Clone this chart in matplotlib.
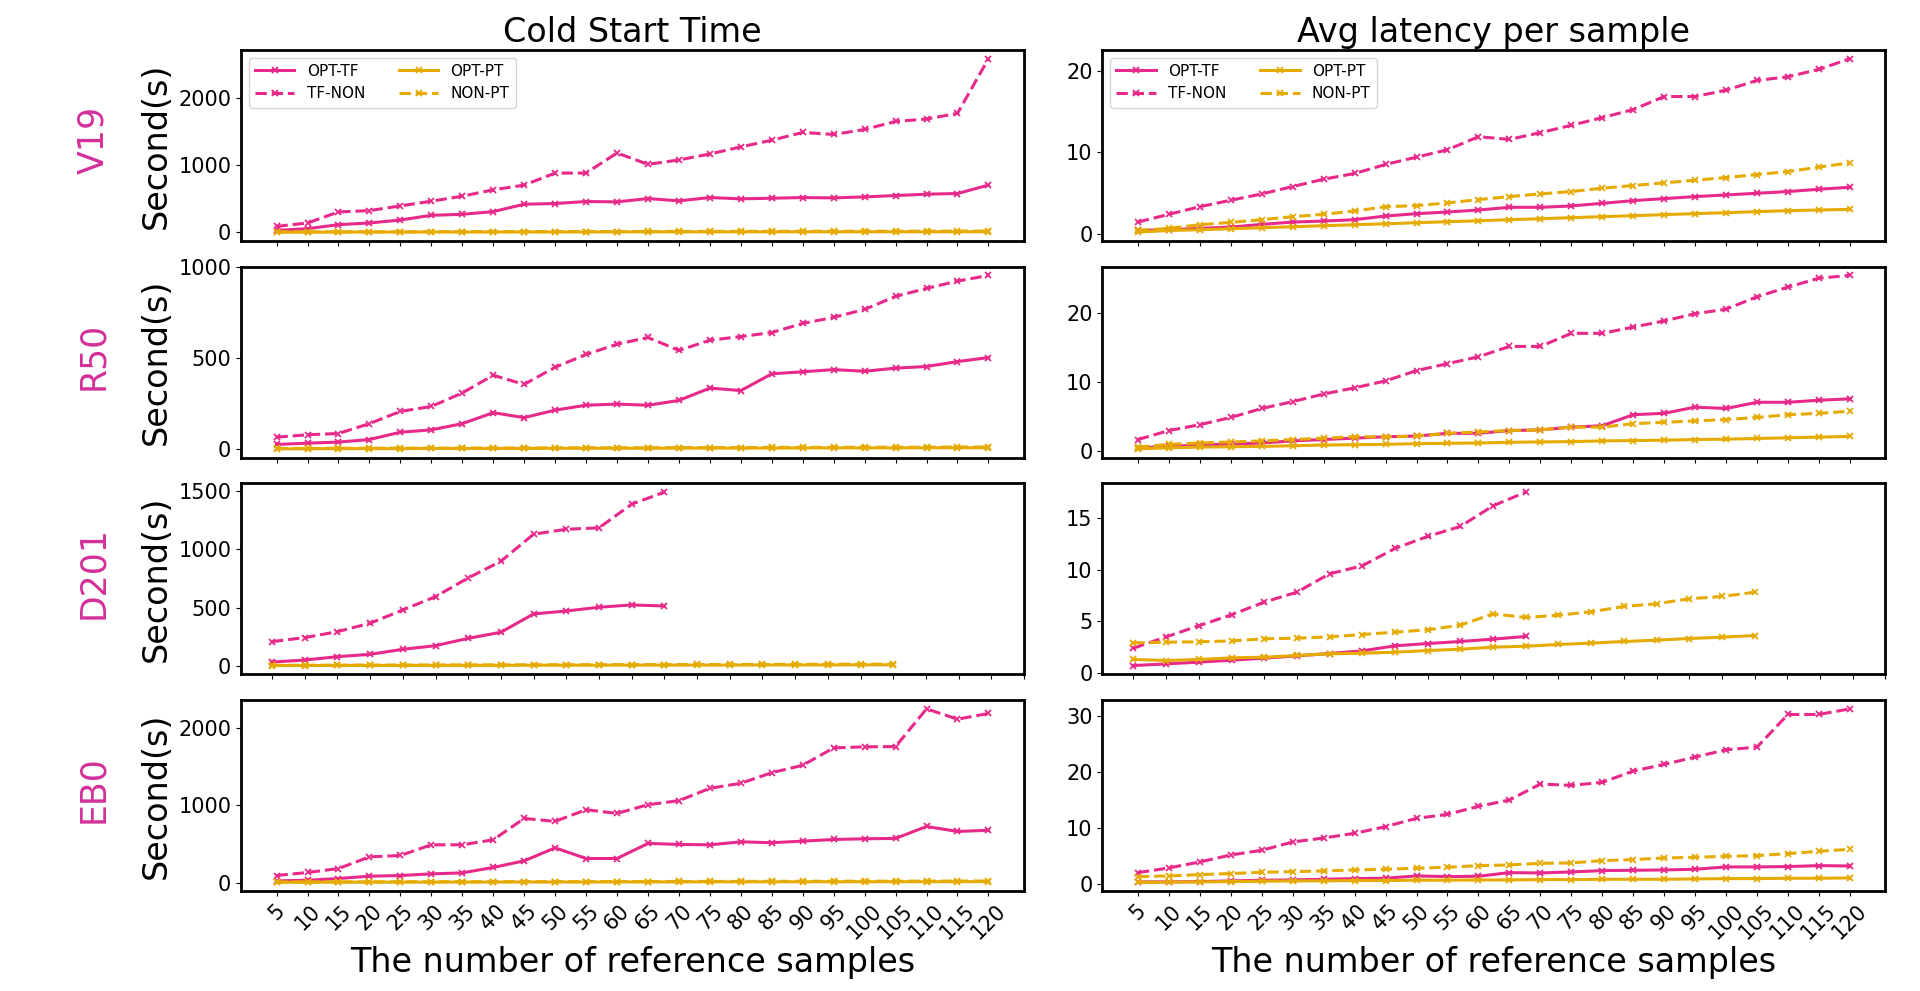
import matplotlib
matplotlib.use("Agg")
import matplotlib.pyplot as plt

samples = [5, 10, 15, 20, 25, 30, 35, 40, 45, 50, 55, 60, 65, 70, 75, 80, 85, 90, 95, 100, 105, 110, 115, 120]
models = ["V19", "R50", "D201", "EB0"]
col_titles = ["Cold Start Time", "Avg latency per sample"]
series_names = ["OPT-TF", "TF-NON", "OPT-PT", "NON-PT"]

# ---------------- V19 ----------------
v19_cold_opt_tf = [30, 55, 115, 140, 184, 254, 269, 309, 419, 429, 459, 454, 503, 469, 518, 499, 508, 518, 513, 528, 548, 568, 578, 703]
v19_cold_tf_non = [90, 140, 304, 324, 394, 464, 538, 633, 703, 882, 882, 1181, 1012, 1077, 1166, 1271, 1371, 1486, 1456, 1530, 1650, 1685, 1770, 2582]
v19_cold_opt_pt = [4, 4, 5, 5, 5, 6, 6, 6, 7, 6, 7, 7, 8, 7, 8, 8, 8, 9, 9, 9, 10, 9, 10, 10]
v19_cold_non_pt = [7, 8, 8, 9, 10, 10, 11, 11, 12, 12, 13, 13, 14, 14, 15, 15, 16, 17, 17, 18, 18, 19, 19, 20]
v19_lat_opt_tf = [0.41, 0.49, 0.66, 0.82, 1.15, 1.44, 1.56, 1.73, 2.18, 2.47, 2.67, 2.92, 3.25, 3.25, 3.42, 3.74, 4.07, 4.32, 4.57, 4.77, 4.98, 5.19, 5.47, 5.72]
v19_lat_tf_non = [1.44, 2.39, 3.33, 4.12, 4.90, 5.80, 6.71, 7.41, 8.52, 9.42, 10.33, 11.93, 11.60, 12.43, 13.33, 14.28, 15.27, 16.87, 16.87, 17.65, 18.85, 19.30, 20.21, 21.52]
v19_lat_opt_pt = [0.20, 0.41, 0.49, 0.62, 0.74, 0.86, 0.99, 1.11, 1.23, 1.36, 1.48, 1.60, 1.73, 1.85, 1.98, 2.10, 2.22, 2.35, 2.47, 2.59, 2.72, 2.84, 2.92, 3.00]
v19_lat_non_pt = [0.41, 0.66, 1.11, 1.40, 1.73, 2.10, 2.39, 2.80, 3.33, 3.46, 3.79, 4.20, 4.57, 4.90, 5.19, 5.60, 5.93, 6.26, 6.58, 6.91, 7.28, 7.65, 8.19, 8.72]

# ---------------- R50 ----------------
r50_cold_opt_tf = [27, 34, 40, 54, 94, 107, 141, 201, 174, 215, 242, 248, 242, 268, 336, 322, 414, 425, 437, 428, 445, 454, 481, 503]
r50_cold_tf_non = [67, 80, 87, 141, 208, 235, 309, 406, 356, 450, 520, 576, 613, 542, 598, 618, 640, 690, 723, 767, 838, 882, 922, 953]
r50_cold_opt_pt = [3, 3, 4, 4, 4, 5, 5, 5, 5, 6, 6, 6, 6, 7, 7, 7, 7, 8, 8, 8, 8, 9, 9, 9]
r50_cold_non_pt = [5, 5, 6, 6, 7, 7, 7, 8, 8, 8, 9, 9, 9, 10, 10, 10, 11, 11, 11, 12, 12, 12, 13, 13]
r50_lat_opt_tf = [0.4, 0.6, 0.8, 0.95, 1.1, 1.4, 1.6, 1.8, 2.0, 2.1, 2.5, 2.5, 2.9, 3.0, 3.4, 3.6, 5.2, 5.4, 6.3, 6.1, 7.0, 7.0, 7.3, 7.5]
r50_lat_tf_non = [1.6, 2.9, 3.75, 4.8, 6.1, 7.1, 8.2, 9.1, 10.1, 11.6, 12.6, 13.6, 15.1, 15.1, 17.0, 17.0, 17.9, 18.8, 19.85, 20.5, 22.3, 23.7, 25.0, 25.4]
r50_lat_opt_pt = [0.25, 0.4, 0.5, 0.55, 0.6, 0.7, 0.8, 0.85, 0.9, 1.0, 1.05, 1.1, 1.2, 1.25, 1.3, 1.4, 1.45, 1.5, 1.6, 1.65, 1.75, 1.85, 1.95, 2.05]
r50_lat_non_pt = [0.5, 0.9, 1.1, 1.25, 1.4, 1.6, 1.8, 2.0, 2.0, 2.1, 2.5, 2.7, 2.9, 3.0, 3.4, 3.4, 3.9, 4.1, 4.3, 4.5, 4.8, 5.2, 5.4, 5.7]

# ---------------- D201 ----------------
d201_cold_opt_tf = [34, 51, 80, 100, 143, 174, 237, 289, 446, 471, 503, 523, 514]
d201_cold_tf_non = [209, 243, 294, 366, 480, 594, 754, 897, 1129, 1171, 1183, 1386, 1489]
d201_cold_opt_pt = [4, 4, 5, 5, 5, 6, 6, 6, 7, 7, 7, 8, 8, 8, 8, 9, 9, 9, 10, 10]
d201_cold_non_pt = [6, 7, 7, 8, 8, 9, 9, 10, 10, 11, 11, 12, 12, 13, 13, 14, 14, 15, 15, 16]
d201_lat_opt_tf = [0.68, 0.84, 1.01, 1.20, 1.40, 1.62, 1.85, 2.11, 2.60, 2.82, 3.02, 3.25, 3.51]
d201_lat_tf_non = [2.37, 3.47, 4.55, 5.62, 6.85, 7.82, 9.61, 10.39, 12.08, 13.25, 14.22, 16.23, 17.56]
d201_lat_opt_pt = [1.27, 1.17, 1.27, 1.43, 1.49, 1.66, 1.82, 1.88, 1.98, 2.14, 2.27, 2.47, 2.56, 2.73, 2.86, 3.02, 3.15, 3.31, 3.44, 3.60]
d201_lat_non_pt = [2.89, 2.95, 2.99, 3.08, 3.28, 3.34, 3.47, 3.70, 3.93, 4.16, 4.61, 5.71, 5.36, 5.58, 5.91, 6.43, 6.69, 7.18, 7.40, 7.82]

# ---------------- EB0 ----------------
eb0_cold_opt_tf = [21, 30, 52, 82, 91, 112, 125, 195, 281, 449, 311, 311, 506, 493, 488, 527, 515, 536, 557, 566, 571, 725, 661, 676]
eb0_cold_tf_non = [91, 130, 181, 332, 350, 488, 488, 553, 829, 791, 942, 894, 1007, 1059, 1219, 1284, 1421, 1517, 1742, 1755, 1759, 2247, 2113, 2187]
eb0_cold_opt_pt = [4, 4, 5, 5, 5, 6, 6, 6, 7, 7, 7, 8, 8, 8, 9, 9, 9, 10, 10, 10, 11, 11, 11, 12]
eb0_cold_non_pt = [7, 8, 8, 9, 10, 10, 11, 11, 12, 12, 12, 13, 13, 14, 15, 15, 16, 16, 17, 18, 18, 19, 19, 20]
eb0_lat_opt_tf = [0.30, 0.30, 0.36, 0.48, 0.60, 0.65, 0.77, 0.89, 0.95, 1.37, 1.25, 1.31, 1.96, 1.90, 2.08, 2.32, 2.38, 2.44, 2.56, 2.98, 2.98, 3.04, 3.21, 3.15]
eb0_lat_tf_non = [1.96, 2.80, 3.87, 5.12, 5.95, 7.44, 8.15, 8.99, 10.18, 11.67, 12.38, 13.81, 14.94, 17.80, 17.56, 18.10, 20.12, 21.31, 22.62, 23.93, 24.40, 30.24, 30.24, 31.25]
eb0_lat_opt_pt = [0.24, 0.24, 0.30, 0.36, 0.42, 0.48, 0.48, 0.54, 0.54, 0.60, 0.60, 0.65, 0.65, 0.71, 0.71, 0.77, 0.77, 0.77, 0.83, 0.89, 0.89, 0.95, 0.95, 1.01]
eb0_lat_non_pt = [1.25, 1.37, 1.61, 1.79, 2.02, 2.14, 2.26, 2.44, 2.56, 2.74, 2.92, 3.21, 3.33, 3.63, 3.69, 4.11, 4.29, 4.58, 4.70, 4.88, 5.00, 5.36, 5.77, 6.13]

cold_data = {
    "V19": [v19_cold_opt_tf, v19_cold_tf_non, v19_cold_opt_pt, v19_cold_non_pt],
    "R50": [r50_cold_opt_tf, r50_cold_tf_non, r50_cold_opt_pt, r50_cold_non_pt],
    "D201": [d201_cold_opt_tf, d201_cold_tf_non, d201_cold_opt_pt, d201_cold_non_pt],
    "EB0": [eb0_cold_opt_tf, eb0_cold_tf_non, eb0_cold_opt_pt, eb0_cold_non_pt],
}
lat_data = {
    "V19": [v19_lat_opt_tf, v19_lat_tf_non, v19_lat_opt_pt, v19_lat_non_pt],
    "R50": [r50_lat_opt_tf, r50_lat_tf_non, r50_lat_opt_pt, r50_lat_non_pt],
    "D201": [d201_lat_opt_tf, d201_lat_tf_non, d201_lat_opt_pt, d201_lat_non_pt],
    "EB0": [eb0_lat_opt_tf, eb0_lat_tf_non, eb0_lat_opt_pt, eb0_lat_non_pt],
}

PINK = "#e7298a"
GOLD = "#e6ab02"
styles = [(PINK, "-"), (PINK, "--"), (GOLD, "-"), (GOLD, "--")]

plt.rcParams["font.family"] = ["DejaVu Sans"]

fig, axes = plt.subplots(4, 2, figsize=(19.2, 9.91), dpi=100)
fig.subplots_adjust(left=0.1255, right=0.982, top=0.9495, bottom=0.101, wspace=0.10, hspace=0.136)

for r, m in enumerate(models):
    for c, data in enumerate([cold_data, lat_data]):
        ax = axes[r, c]
        for (col, ls), name, vals in zip(styles, series_names, data[m]):
            xs = list(range(len(vals)))
            ax.plot(xs, vals, color=col, linestyle=ls, linewidth=2.2, marker="x",
                    markersize=5, markeredgewidth=1.3, label=name)
        ax.set_xticks(range(len(samples)))
        if r == len(models) - 1:
            ax.set_xticklabels([str(s) for s in samples], rotation=45, fontsize=15)
        else:
            ax.set_xticklabels([])
        ax.tick_params(axis="y", labelsize=15)
        for sp in ax.spines.values():
            sp.set_linewidth(2)
            sp.set_color("black")
        if r == 0:
            ax.set_title(col_titles[c], fontsize=24)
            ax.legend(loc="upper left", ncol=2, fontsize=11, columnspacing=2.2,
                      handlelength=2.6)
        if c == 0:
            ax.set_ylabel("Second(s)", fontsize=24)
        if r == len(models) - 1:
            ax.set_xlabel("The number of reference samples", fontsize=24, labelpad=2)
    pos = axes[r, 0].get_position()
    fig.text(0.0485, (pos.y0 + pos.y1) / 2 + 0.006, m, rotation=90, ha="center", va="center",
             fontsize=25, color="#d3309a")

fig.savefig("out.png", dpi=100)
